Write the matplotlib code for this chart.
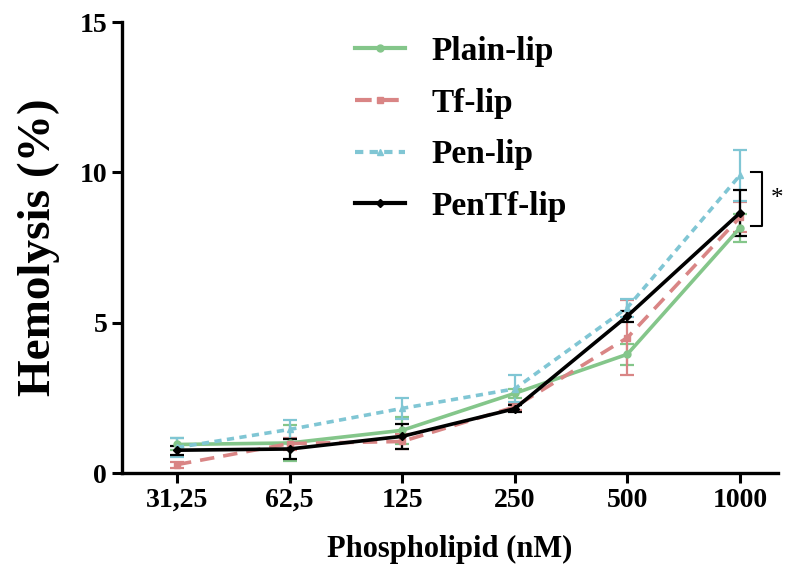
import matplotlib
matplotlib.use("Agg")
import matplotlib.pyplot as plt
from matplotlib.lines import Line2D
import numpy as np

categories = ["31,25", "62,5", "125", "250", "500", "1000"]
series_names = ["Plain-lip", "Tf-lip", "Pen-lip", "PenTf-lip"]
plain = [0.95, 1.0, 1.42, 2.65, 3.95, 8.15]
plain_err = [0.2, 0.6, 0.45, 0.15, 0.35, 0.45]
tf = [0.28, 0.98, 1.05, 2.2, 4.5, 8.5]
tf_err = [0.1, 0.2, 0.25, 0.1, 1.25, 0.5]
pen = [0.85, 1.45, 2.15, 2.8, 5.5, 9.9]
pen_err = [0.3, 0.32, 0.35, 0.45, 0.3, 0.85]
pentf = [0.76, 0.8, 1.22, 2.14, 5.22, 8.65]
pentf_err = [0.15, 0.33, 0.42, 0.12, 0.18, 0.75]
yticks = [0, 5, 10, 15]

colors = ["#84c68a", "#d98585", "#80c6d4", "#000000"]

plt.rcParams['font.family'] = ['Liberation Serif', 'DejaVu Serif']
plt.rcParams['font.weight'] = 'bold'

fig = plt.figure(figsize=(7.86, 5.72), dpi=100)
ax = fig.add_axes([0.155, 0.173, 0.835, 0.7885])

x = np.arange(len(categories))
data = [(plain, plain_err), (tf, tf_err), (pen, pen_err), (pentf, pentf_err)]
styles = [dict(ls='-', marker='o', ms=5),
          dict(ls=(0, (4, 2.5)), marker='s', ms=5),
          dict(ls=(0, (2, 1.5)), marker='^', ms=5),
          dict(ls='-', marker='D', ms=4.5)]
handles = []
for (vals, errs), c, st, name in zip(data, colors, styles, series_names):
    ax.errorbar(x, vals, yerr=errs, color=c, lw=2.6, capsize=5,
                capthick=1.6, elinewidth=1.6, **st)
    handles.append(Line2D([], [], color=c, lw=3.0, **st))

ax.set_xlim(-0.49, 5.34)
ax.set_ylim(0, 15)
ax.set_xticks(x)
ax.set_xticklabels(categories)
ax.set_yticks(yticks)
ax.tick_params(axis='both', which='major', labelsize=20, width=2.2, length=7,
               direction='out')
for lab in ax.get_xticklabels() + ax.get_yticklabels():
    lab.set_fontweight('bold')
for s in ['top', 'right']:
    ax.spines[s].set_visible(False)
for s in ['left', 'bottom']:
    ax.spines[s].set_linewidth(2.4)

ax.set_xlabel("Phospholipid (nM)", fontsize=22, fontweight='bold', labelpad=16)
ax.set_ylabel("Hemolysis (%)", fontsize=34, fontweight='bold', labelpad=14)

leg = ax.legend(handles=handles, labels=series_names, loc='upper left',
                bbox_to_anchor=(355 / 786, 1 - 36 / 572),
                bbox_transform=fig.transFigure, frameon=False,
                fontsize=24, handlelength=1.5, handletextpad=0.8,
                labelspacing=0.62, borderpad=0, borderaxespad=0)
for t in leg.get_texts():
    t.set_fontweight('bold')

# significance bracket
ax.plot([5.10, 5.20, 5.20, 5.10], [10.0, 10.0, 8.2, 8.2], color='black',
        lw=1.5, clip_on=False)
ax.text(5.33, 9.1, "*", fontsize=18, fontweight='normal', ha='center',
        va='center')

fig.savefig("out.png", dpi=100)
